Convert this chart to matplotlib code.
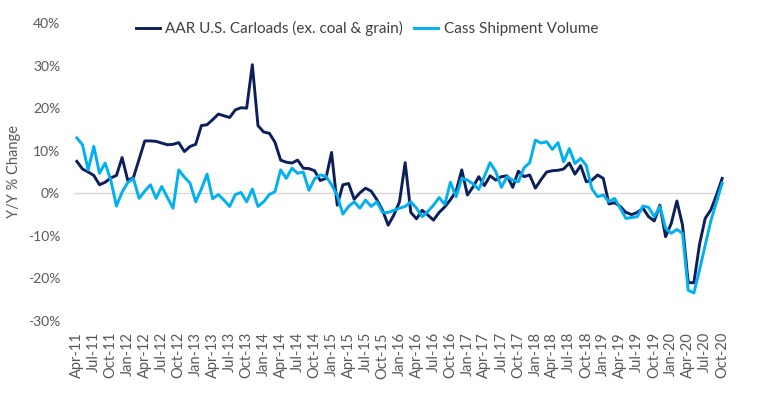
import numpy as np
import pandas as pd
import matplotlib
matplotlib.use("Agg")
import matplotlib.pyplot as plt
from matplotlib.ticker import FuncFormatter

# monthly Y/Y % change, Apr-2011 .. Oct-2020
months = pd.date_range("2011-04-01", "2020-10-01", freq="MS")

aar_carloads = [
    7.5, 5.7, 5.0, 4.2, 2.0, 2.6, 3.6, 4.2, 8.4, 3.0, 3.7, 8.0,
    12.3, 12.3, 12.2, 11.8, 11.4, 11.5, 11.9, 9.8, 11.0, 11.5, 15.9, 16.1,
    17.3, 18.6, 18.2, 17.8, 19.6, 20.1, 20.0, 30.2, 15.9, 14.4, 14.1, 12.0,
    7.8, 7.3, 7.1, 7.8, 5.9, 5.8, 5.3, 3.0, 3.5, 9.6, -2.8, 2.0,
    2.3, -1.4, 0.1, 1.2, 0.5, -1.5, -4.0, -7.5, -5.1, -2.0, 7.2, -4.5,
    -6.0, -4.0, -5.1, -6.3, -4.5, -3.2, -1.5, 0.5, 5.5, -0.4, 1.5, 3.9,
    1.8, 4.1, 3.1, 3.9, 4.1, 1.4, 5.2, 3.9, 4.3, 1.2, 3.2, 5.0,
    5.3, 5.4, 5.7, 7.1, 4.5, 6.5, 2.7, 3.1, 4.3, 3.5, -2.5, -2.2,
    -3.1, -4.5, -5.0, -4.5, -3.5, -5.5, -6.5, -2.8, -10.2, -7.1, -1.8, -7.5,
    -21.0, -21.0, -12.0, -5.9, -3.9, -0.4, 3.5,
]

cass_shipments = [
    13.0, 11.4, 5.5, 11.0, 4.7, 7.1, 3.1, -3.0, 0.3, 2.5, 3.5, -1.2,
    0.5, 2.0, -1.2, 1.6, -1.0, -3.5, 5.5, 3.8, 2.4, -2.0, 1.0, 4.5,
    -1.3, -0.3, -1.6, -3.1, -0.3, 0.2, -2.0, 1.0, -3.1, -2.0, -0.3, 0.4,
    5.5, 3.5, 5.9, 4.7, 5.0, 0.7, 3.4, 4.3, 4.0, 2.0, -0.5, -4.9,
    -3.1, -2.0, -3.5, -1.6, -3.1, -2.0, -4.5, -4.5, -4.0, -3.5, -3.1, -2.0,
    -3.5, -5.5, -4.3, -2.8, -1.0, -2.6, 2.6, -0.8, 3.5, 3.1, 2.2, 0.9,
    4.0, 7.2, 5.1, 1.4, 3.9, 3.1, 2.7, 6.0, 7.2, 12.5, 11.8, 12.1,
    10.3, 11.9, 7.4, 10.5, 7.0, 8.2, 6.5, 1.0, -0.8, -0.4, -2.0, -1.2,
    -3.5, -5.9, -5.7, -5.5, -3.0, -3.3, -5.5, -3.1, -8.2, -9.4, -8.5, -9.4,
    -22.8, -23.4, -18.0, -12.2, -6.5, -2.0, 2.4,
]

tick_labels = [m.strftime("%b-%y") for m in months[::3]]

plt.rcParams['font.family'] = ['Lato', 'DejaVu Sans']

fig = plt.figure(figsize=(7.64, 3.94), dpi=100)
ax = fig.add_axes([74 / 764, 73 / 394, 651 / 764, 298 / 394])

x = np.arange(len(months))
ax.plot(x, aar_carloads, color='#0B1F5C', lw=2.1,
        label='AAR U.S. Carloads (ex. coal & grain)')
ax.plot(x, cass_shipments, color='#00B0F0', lw=2.1,
        label='Cass Shipment Volume')

ax.axhline(0, color='#D9D9D9', lw=1.0, zorder=0)

ax.set_xlim(-0.5, len(months) - 0.5)
ax.set_ylim(-30, 40)
ax.set_yticks(range(-30, 41, 10))
ax.yaxis.set_major_formatter(FuncFormatter(lambda v, p: f"{v:.0f}%"))
ax.set_xticks(x[::3])
ax.set_xticklabels(tick_labels, rotation=90)

ax.tick_params(axis='both', length=0, colors='#595959', labelsize=10.5)
ax.tick_params(axis='y', pad=10, labelsize=10)
ax.tick_params(axis='x', pad=8)
for s in ax.spines.values():
    s.set_visible(False)

ax.set_ylabel('Y/Y % Change', color='#595959', fontsize=10.5, labelpad=5)

ax.legend(loc='center', bbox_to_anchor=(0.45, 0.98), ncol=2, frameon=False,
          fontsize=11, handlelength=1.6, handletextpad=0.35,
          columnspacing=0.7, labelcolor='#404040')

fig.savefig('out.png', dpi=100)
